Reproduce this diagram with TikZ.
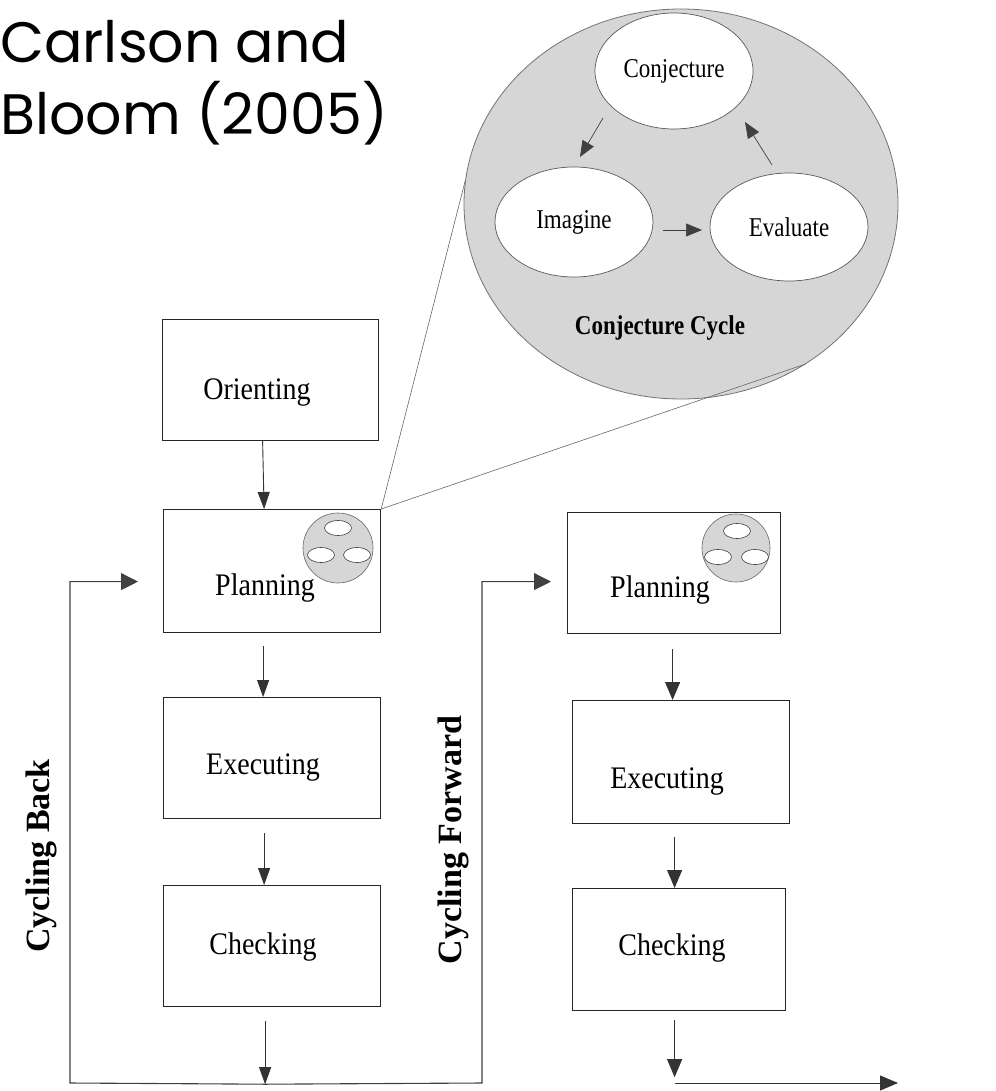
\documentclass[tikz,border=0pt]{standalone}
\usepackage{fontspec}
\usepackage{graphicx}
\setmainfont{Liberation Serif}
\newfontfamily\titlefont{Poppins}
\usetikzlibrary{arrows.meta,calc,shapes.geometric}
\newcommand{\tallt}[1]{\scalebox{1}[1.12]{#1}}
\newcommand{\tallc}[1]{\scalebox{1}[1.18]{#1}}
\tikzset{
  title/.style={font=\titlefont\fontsize{57}{64}\selectfont, inner sep=0pt, text=black},
  box/.style={draw=black!85, line width=1.2pt, minimum width=217pt, minimum height=121pt, inner sep=0pt, anchor=north west},
  btxt/.style={font=\fontsize{28}{30}\selectfont, inner sep=0pt},
  bigc/.style={ellipse, draw=black!55, line width=0.8pt, fill=black!16, minimum width=434pt, minimum height=390pt, inner sep=0pt},
  cell/.style={ellipse, draw=black!65, line width=0.7pt, fill=white, minimum width=158pt, minimum height=112pt, inner sep=0pt, font=\fontsize{23}{25}\selectfont},
  minic/.style={circle, draw=black!60, line width=0.6pt, fill=black!16, minimum size=70pt, inner sep=0pt},
  minie/.style={ellipse, draw=black!75, line width=0.6pt, fill=white, minimum width=27pt, minimum height=15pt, inner sep=0pt},
  larr/.style={draw=black!80, line width=0.9pt, -{Triangle[length=17pt,width=12pt]}},
  rarr/.style={draw=black!80, line width=1pt, -{Triangle[length=18pt,width=15pt]}},
  looparr/.style={draw=black!75, line width=1.1pt, -{Triangle[length=17pt,width=17pt]}},
  carr/.style={draw=black!75, line width=0.7pt, -{Triangle[length=16pt,width=13pt]}},
  zoomline/.style={draw=black!60, line width=0.6pt},
  side/.style={font=\bfseries\fontsize{34}{36}\selectfont, inner sep=0pt, rotate=90}
}
\begin{document}
\begin{tikzpicture}[x=1pt,y=-1pt]
\useasboundingbox (0,0) rectangle (995,1091);
% title
\node[title, anchor=base west] (t1) at (0,63) {Carlson and};
\node[title, anchor=base west] (t2) at (0,135) {Bloom (2005)};
% conjecture cycle
\node[bigc] (cyc) at (681,204) {};
\node[cell, minimum height=116pt] (conj) at (674,71) {\tallc{Conjecture}};
\node[cell, minimum height=110pt] (imag) at (574,222) {\tallc{Imagine}};
\node[cell, minimum height=108pt] (eval) at (789,227) {\tallc{Evaluate}};
\node[font=\bfseries\fontsize{23}{25}\selectfont, inner sep=0pt] (cc) at (660,328) {\tallc{Conjecture Cycle}};
\draw[carr] ($(conj.center)+(-71,47)$) -- ($(imag.center)+(6,-65)$);
\draw[carr] ($(imag.center)+(89,8)$) -- ($(eval.center)+(-87,3)$);
\draw[carr] ($(eval.center)+(-17,-62)$) -- ($(conj.center)+(71,51)$);
% left column
\node[box, minimum width=216pt] (ori) at (162,319) {};
\node[box, minimum height=123pt] (lplan) at (163,509) {};
\node[box] (lexec) at (163,697) {};
\node[box] (lchk) at (163,885) {};
\node[btxt] (tori) at (257,392) {\tallt{Orienting}};
\node[btxt] (tlplan) at (265,588) {\tallt{Planning}};
\node[btxt] (tlexec) at (263,767) {\tallt{Executing}};
\node[btxt] (tlchk) at (263,947) {\tallt{Checking}};
% right column
\node[box, minimum width=213pt] (rplan) at (567,512) {};
\node[box, minimum height=123pt] (rexec) at (572,700) {};
\node[box, minimum width=213pt, minimum height=122pt] (rchk) at (572,888) {};
\node[btxt] (trplan) at (660,590) {\tallt{Planning}};
\node[btxt] (trexec) at (667,781) {\tallt{Executing}};
\node[btxt] (trchk) at (672,948) {\tallt{Checking}};
% mini cycles
\node[minic] (mc1) at (338,548) {};
\node[minie] (mc1a) at ($(mc1.center)+(0,-20)$) {};
\node[minie] (mc1b) at ($(mc1.center)+(-17,7)$) {};
\node[minie] (mc1c) at ($(mc1.center)+(19,7)$) {};
\node[minic, minimum size=68pt] (mc2) at (736,548) {};
\node[minie] (mc2a) at ($(mc2.center)+(1,-17)$) {};
\node[minie] (mc2b) at ($(mc2.center)+(-18,9)$) {};
\node[minie] (mc2c) at ($(mc2.center)+(19,9)$) {};
% zoom lines
\draw[zoomline] (lplan.north east) -- (cyc.174);
\draw[zoomline] (lplan.north east) -- (cyc.308);
% left arrows
\draw[larr] ([xshift=-8pt]ori.south) -- ([xshift=-8pt]lplan.north);
\draw[larr] ([xshift=-9pt,yshift=-13pt]lplan.south) -- ([xshift=-9pt]lexec.north);
\draw[larr] ([xshift=-8pt,yshift=-14pt]lexec.south) -- ([xshift=-8pt]lchk.north);
\coordinate (split) at ($(lchk.south)+(-7,77)$);
\draw[larr] ([xshift=-7pt,yshift=-14pt]lchk.south) -- (split);
% cycling loops
\coordinate (cbL) at (70,1083);
\coordinate (cfR) at (482,1083);
\draw[looparr] (split) -- (cbL) |- ([xshift=-25pt,yshift=-10.5pt]lplan.west);
\draw[looparr] (split) -- (cfR) |- ([xshift=-16pt,yshift=-8.5pt]rplan.west);
\node[side] (cb) at (41,856) {Cycling Back};
\node[side] (cf) at (453,840) {Cycling Forward};
% right arrows
\draw[rarr] ([xshift=-1.5pt,yshift=-15pt]rplan.south) -- ([xshift=-8.5pt]rexec.north);
\draw[rarr] ([xshift=-6.5pt,yshift=-13pt]rexec.south) -- ([xshift=-4.5pt]rchk.north);
\coordinate (rend) at ($(rchk.south)+(-4.5,66)$);
\draw[rarr] ([xshift=-4.5pt,yshift=-9pt]rchk.south) -- (rend);
\coordinate (hs) at (675,1083);
\coordinate (he) at (898,1083);
\draw[rarr] (hs) -- (he);
\end{tikzpicture}
\end{document}
